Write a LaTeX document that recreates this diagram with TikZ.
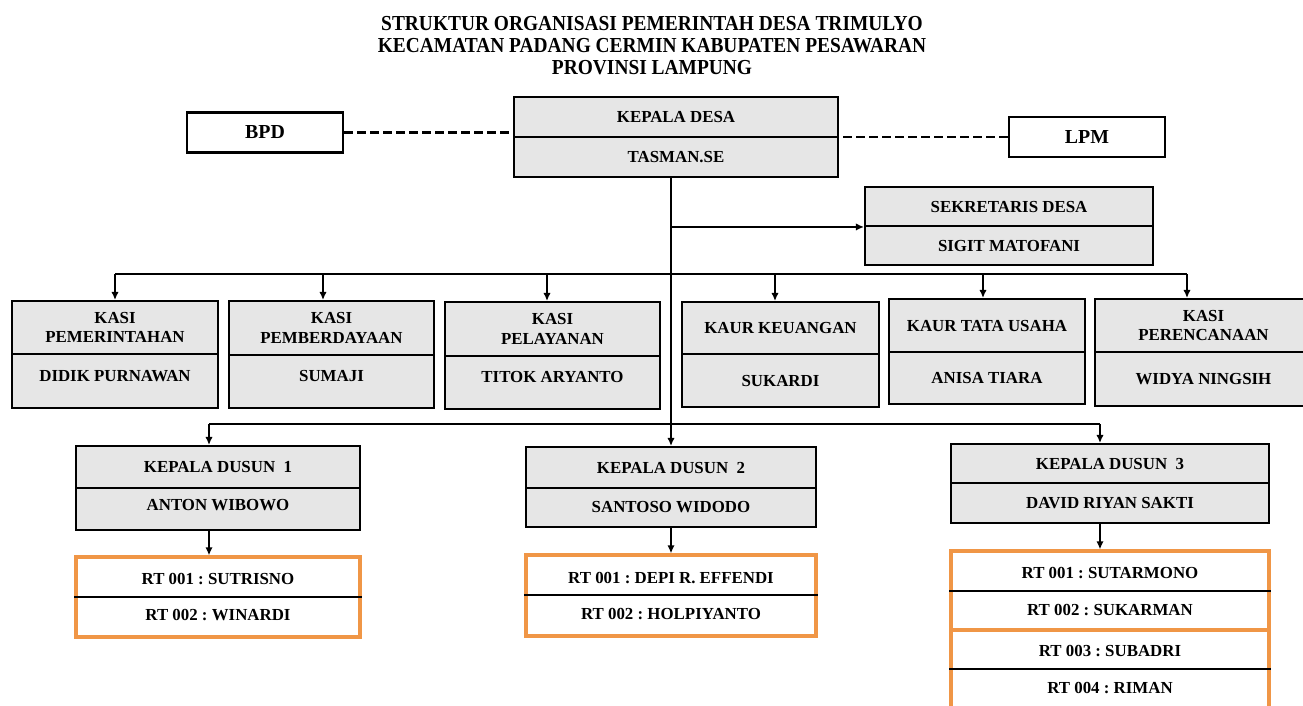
\documentclass[tikz,border=0pt]{standalone}
\usepackage{fontspec}
\setmainfont{Liberation Serif}
\usetikzlibrary{arrows.meta}
\definecolor{boxgray}{RGB}{230,230,230}
\definecolor{rtorange}{RGB}{240,150,70}
\tikzset{
  part/.style={draw=black, line width=1.1pt, fill=boxgray, inner sep=0pt, align=center,
    font=\fontsize{9.6}{11}\selectfont\bfseries\frenchspacing},
  sidebox/.style={draw=black, line width=1.6pt, fill=white, inner sep=0pt,
    font=\fontsize{11.3}{13}\selectfont\bfseries},
  rtbox/.style={draw=rtorange, line width=1.8pt, fill=white, inner sep=0pt},
  rttext/.style={inner sep=0pt, font=\fontsize{9.6}{11}\selectfont\bfseries\frenchspacing},
  conn/.style={draw=black, line width=1.1pt},
  arr/.style={conn, -{Latex[length=4.6pt,width=4.2pt]}},
  dashlink/.style={draw=black, line width=1.7pt, dash pattern=on 4.8pt off 2.6pt},
  titletext/.style={font=\fontsize{11.05}{13}\selectfont\bfseries, inner sep=0pt}
}
% [raise of bottom text] name, left, top, right, divider, bottom, top text, bottom text
\newcommand\orgbox[9][0pt]{%
  \node[part, minimum width={(#5-#3)*0.02cm}, minimum height={(#6-#4)*0.02cm}]
    (#2t) at ({(#3+#5)/2},{(#4+#6)/2}) {#8};
  \node[part, minimum width={(#5-#3)*0.02cm}, minimum height={(#7-#6)*0.02cm}]
    (#2b) at ({(#3+#5)/2},{(#6+#7)/2}) {\raisebox{#1}[\height][\depth]{#9}};
}
\newcommand\tallline[1]{\scalebox{1}[1.1]{#1}}
\begin{document}
\begin{tikzpicture}[x=0.02cm,y=-0.02cm]
\clip (0,0) rectangle (1303,706);
\fill[white] (0,0) rectangle (1303,706);

% title
\node[titletext] (title1) at (652,24) {\tallline{STRUKTUR ORGANISASI PEMERINTAH DESA TRIMULYO}};
\node[titletext] (title2) at (652,46) {\tallline{KECAMATAN PADANG CERMIN KABUPATEN PESAWARAN}};
\node[titletext] (title3) at (652,68) {\tallline{PROVINSI LAMPUNG}};

% top level
\orgbox{kd}{514}{97}{838}{137}{177}{KEPALA DESA}{TASMAN.SE}
\node[sidebox, minimum width={156*0.02cm}, minimum height={40*0.02cm}] (bpd) at (265,132.5) {BPD};
\node[sidebox, minimum width={156*0.02cm}, minimum height={40*0.02cm}] (lpm) at (1087,137) {LPM};
\orgbox{sek}{865}{187}{1153}{226}{265}{SEKRETARIS DESA}{SIGIT MATOFANI}

% six boxes
\orgbox[3pt]{ba}{12}{301}{218}{354}{408}{KASI\\PEMERINTAHAN}{DIDIK PURNAWAN}
\orgbox[3pt]{bb}{229}{301}{434}{355}{408}{KASI\\PEMBERDAYAAN}{SUMAJI}
\orgbox[3pt]{bc}{445}{302}{660}{356}{409}{KASI\\PELAYANAN}{TITOK ARYANTO}
\orgbox{bd}{682}{302}{879}{354}{407}{KAUR KEUANGAN}{SUKARDI}
\orgbox{be}{889}{299}{1085}{352}{404}{KAUR TATA USAHA}{ANISA TIARA}
\orgbox{bf}{1095}{299}{1312}{352}{406}{KASI\\PERENCANAAN}{WIDYA NINGSIH}

% dusun
\orgbox[2pt]{da}{76}{446}{360}{488}{530}{KEPALA DUSUN\ \ 1}{ANTON WIBOWO}
\orgbox{db}{526}{447}{816}{488}{527}{KEPALA DUSUN\ \ 2}{SANTOSO WIDODO}
\orgbox{dc}{951}{444}{1269}{483}{523}{KEPALA DUSUN\ \ 3}{DAVID RIYAN SAKTI}

% RT boxes
\node[rtbox, minimum width={284*0.02cm}, minimum height={80*0.02cm}] (rta) at (218,597) {};
\draw[conn] (rta.west |- 0,597) -- (rta.east |- 0,597);
\node[rttext] (rta1) at (218,579) {RT 001 : SUTRISNO};
\node[rttext] (rta2) at (218,615) {RT 002 : WINARDI};

\node[rtbox, minimum width={290*0.02cm}, minimum height={81*0.02cm}] (rtb) at (671,595.5) {};
\draw[conn] (rtb.west |- 0,595) -- (rtb.east |- 0,595);
\node[rttext] (rtb1) at (671,578) {RT 001 : DEPI R. EFFENDI};
\node[rttext] (rtb2) at (671,614) {RT 002 : HOLPIYANTO};

\node[rtbox, minimum width={318*0.02cm}, minimum height={79*0.02cm}] (rtc) at (1110,590.5) {};
\draw[conn] (rtc.west |- 0,591) -- (rtc.east |- 0,591);
\node[rttext] (rtc1) at (1110,573) {RT 001 : SUTARMONO};
\node[rttext] (rtc2) at (1110,610) {RT 002 : SUKARMAN};
\node[rtbox, minimum width={318*0.02cm}, minimum height={82*0.02cm}] (rtd) at (1110,671) {};
\draw[conn] (rtd.west |- 0,669) -- (rtd.east |- 0,669);
\node[rttext] (rtd1) at (1110,651) {RT 003 : SUBADRI};
\node[rttext] (rtd2) at (1110,688) {RT 004 : RIMAN};

% side dashed links
\draw[dashlink] (bpd.east) -- (bpd.east -| kdt.west);
\draw[dashlink] (lpm.west) -- (lpm.west -| kdt.east);

% trunk
\coordinate (trunk) at (671,177);
\draw[arr] (trunk) -- (trunk |- dbt.north);
\draw[arr] (trunk |- sekt.south west) -- (sekt.south west);

% bus to six boxes
\coordinate (bus1) at (115,274);
\coordinate (bus2) at (323,274);
\coordinate (bus3) at (547,274);
\coordinate (bus4) at (775,274);
\coordinate (bus5) at (983,274);
\coordinate (bus6) at (1187,274);
\draw[conn] (bus1) -- (bus6);
\draw[arr] (bus1) -- (bus1 |- bat.north);
\draw[arr] (bus2) -- (bus2 |- bbt.north);
\draw[arr] (bus3) -- (bus3 |- bct.north);
\draw[arr] (bus4) -- (bus4 |- bdt.north);
\draw[arr] (bus5) -- (bus5 |- bet.north);
\draw[arr] (bus6) -- (bus6 |- bft.north);

% bus to dusun
\coordinate (dbus1) at (209,424);
\coordinate (dbus3) at (1100,424);
\draw[conn] (dbus1) -- (dbus3);
\draw[arr] (dbus1) -- (dbus1 |- dat.north);
\draw[arr] (dbus3) -- (dbus3 |- dct.north);

% dusun to RT
\draw[arr] (dab.south -| dbus1) -- (rta.north -| dbus1);
\draw[arr] (dbb.south -| trunk) -- (rtb.north -| trunk);
\draw[arr] (dcb.south -| dbus3) -- (rtc.north -| dbus3);
\end{tikzpicture}
\end{document}
